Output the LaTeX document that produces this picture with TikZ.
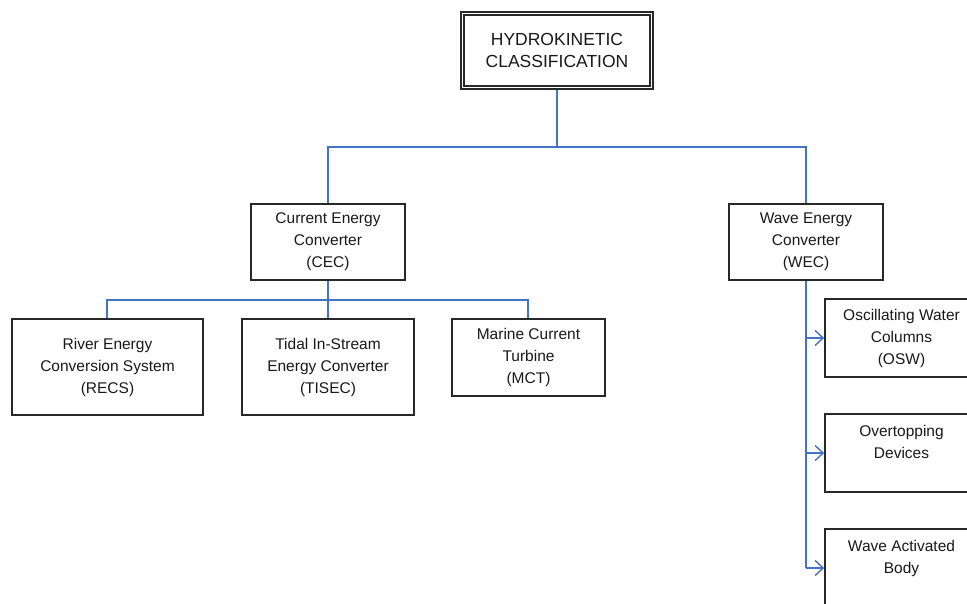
\documentclass[tikz,border=0pt]{standalone}
\usepackage{fontspec}
\setmainfont{Liberation Sans}
\usetikzlibrary{arrows.meta}
\definecolor{conn}{RGB}{68,114,196}
\definecolor{boxline}{RGB}{40,40,40}
\definecolor{txt}{RGB}{25,25,25}
\begin{document}
\begin{tikzpicture}[x=1pt,y=-1pt,
  box/.style={draw=boxline,line width=1.7pt,align=center,inner sep=0pt,text=txt,
    font=\fontsize{15.5}{22}\selectfont},
  conline/.style={draw=conn,line width=1.6pt},
  arr/.style={conline,-{Straight Barb[length=8pt,width=15pt,line width=1.4pt]}}]
\clip (0,0) rectangle (967,603);
\fill[white] (0,0) rectangle (967,603);
% root
\node[box,minimum width=192,minimum height=77,font=\fontsize{17.5}{22}\selectfont] (root) at (557,50.5) {HYDROKINETIC\\CLASSIFICATION};
\draw[boxline,line width=1.5pt] ([shift={(4,4)}]root.north west) rectangle ([shift={(-4,-4)}]root.south east);
% level 1
\node[box,minimum width=154,minimum height=76] (cec) at (328,242) {Current Energy\\Converter\\(CEC)};
\node[box,minimum width=154,minimum height=76] (wec) at (806,242) {Wave Energy\\Converter\\(WEC)};
% CEC children
\node[box,minimum width=191,minimum height=96] (recs) at (107.5,367) {River Energy\\Conversion System\\(RECS)};
\node[box,minimum width=172,minimum height=96] (tisec) at (328,367) {Tidal In-Stream\\Energy Converter\\(TISEC)};
\node[box,minimum width=153,minimum height=77] (mct) at (528.5,357.5) {Marine Current\\Turbine\\(MCT)};
% WEC children
\node[box,minimum width=153,minimum height=78] (osw) at (901.5,338) {Oscillating Water\\Columns\\(OSW)};
\node[box,minimum width=153,minimum height=78] (ovt) at (901.5,453) {Overtopping\\Devices\\\phantom{X}};
\node[box,minimum width=153,minimum height=78] (wab) at (901.5,568) {Wave Activated\\Body\\\phantom{X}};
% connectors
\coordinate (j1) at (557,147);
\coordinate (j2) at (328,300);
\draw[conline] (root.south) -- (j1);
\draw[conline] (j1) -| (cec.north);
\draw[conline] (j1) -| (wec.north);
\draw[conline] (cec.south) -- (tisec.north);
\draw[conline] (j2) -| ([xshift=-0.5pt]recs.north);
\draw[conline] (j2) -| ([xshift=-0.5pt]mct.north);
\draw[conline] (wec.south) -- (wec.south |- wab.west);
\draw[arr] (wec.south |- osw.west) -- (osw.west);
\draw[arr] (wec.south |- ovt.west) -- (ovt.west);
\draw[arr] (wec.south |- wab.west) -- (wab.west);
\end{tikzpicture}
\end{document}
